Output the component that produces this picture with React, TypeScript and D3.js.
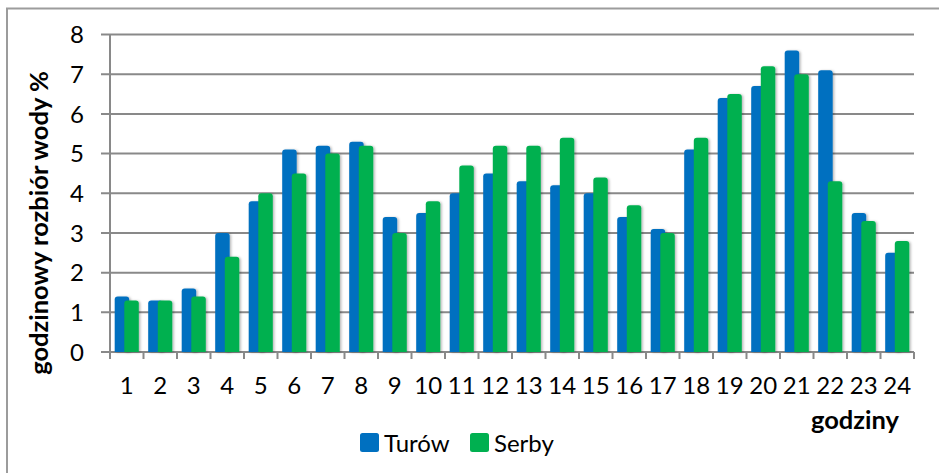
import React from "react";
import * as d3 from "d3";

const hours = ["1","2","3","4","5","6","7","8","9","10","11","12","13","14","15","16","17","18","19","20","21","22","23","24"];
const turow = [1.4,1.3,1.6,3.0,3.8,5.1,5.2,5.3,3.4,3.5,4.0,4.5,4.3,4.2,4.0,3.4,3.1,5.1,6.4,6.7,7.6,7.1,3.5,2.5];
const serby = [1.3,1.3,1.4,2.4,4.0,4.5,5.0,5.2,3.0,3.8,4.7,5.2,5.2,5.4,4.4,3.7,3.0,5.4,6.5,7.2,7.0,4.3,3.3,2.8];
const yTicks = [0,1,2,3,4,5,6,7,8];
const seriesNames = ["Turów", "Serby"];
const colors = ["#0070C0", "#00B050"];

const W = 939, H = 473;
const left = 110, right = 914, top = 34.5, bottom = 352;
const FONT = "Lato, 'Open Sans', sans-serif";

function topRounded(x: number, y: number, w: number, h: number, r: number) {
  const rr = Math.min(r, h, w / 2);
  const p = d3.path();
  p.moveTo(x, y + h);
  p.lineTo(x, y + rr);
  p.quadraticCurveTo(x, y, x + rr, y);
  p.lineTo(x + w - rr, y);
  p.quadraticCurveTo(x + w, y, x + w, y + rr);
  p.lineTo(x + w, y + h);
  p.closePath();
  return p.toString();
}

export default function App() {
  const x = d3.scaleBand<string>().domain(hours).range([left, right]).paddingInner(0).paddingOuter(0);
  const y = d3.scaleLinear().domain([0, 8]).range([bottom, top]);
  const bw = 14.5;
  const off = 4.8;
  const gridColor = "#898989";
  const series = [turow, serby];
  const boundaries = hours.map((h) => x(h)!).concat([right]);

  return (
    <svg width={W} height={H} style={{ position: "absolute", left: 0, top: 0, background: "#fff" }}>
      <defs>
        <filter id="sh" x="-30%" y="-10%" width="160%" height="120%">
          <feDropShadow dx="1.5" dy="0.5" stdDeviation="1.2" floodColor="#000" floodOpacity="0.28" />
        </filter>
      </defs>
      <rect x={7} y={8.5} width={W + 20} height={H + 20} fill="#fff" stroke="#9c9c9c" strokeWidth={2} />
      {yTicks.map((t) => (
        <line key={"g" + t} x1={101} x2={right} y1={y(t)} y2={y(t)} stroke={gridColor} strokeWidth={2} />
      ))}
      <line x1={left} x2={left} y1={top} y2={bottom} stroke={gridColor} strokeWidth={2} />
      {boundaries.map((bx, i) => (
        <line key={"t" + i} x1={bx} x2={bx} y1={bottom} y2={bottom + 7} stroke={gridColor} strokeWidth={2} />
      ))}
      {hours.map((h, i) => {
        const c = x(h)! + x.bandwidth() / 2;
        return (
          <g key={"b" + h}>
            {series.map((s, si) => {
              const bx = c + (si === 0 ? -off : off) - bw / 2;
              const by = y(s[i]);
              return (
                <path key={si} d={topRounded(bx, by, bw, bottom - by, 3)} fill={colors[si]} filter="url(#sh)" />
              );
            })}
          </g>
        );
      })}
      {yTicks.map((t) => (
        <text key={"yl" + t} x={84} y={y(t)} dy="0.36em" textAnchor="end" fontFamily={FONT} fontSize={24} fill="#000">
          {t}
        </text>
      ))}
      {hours.map((h) => (
        <text key={"xl" + h} x={x(h)! + x.bandwidth() / 2} y={394} textAnchor="middle" fontFamily={FONT} fontSize={24} fill="#000">
          {h}
        </text>
      ))}
      <text x={855} y={429} textAnchor="middle" fontFamily={FONT} fontWeight="bold" fontSize={25.5} fill="#000">
        godziny
      </text>
      <text transform={`translate(48,223) rotate(-90)`} textAnchor="middle" fontFamily={FONT} fontWeight="bold" fontSize={25.5} fill="#000">
        godzinowy rozbiór wody %
      </text>
      {seriesNames.map((n, i) => {
        const lx = [360, 470][i];
        return (
          <g key={"lg" + n}>
            <rect x={lx} y={433} width={19} height={19} rx={2.5} fill={colors[i]} />
            <text x={lx + 24} y={452} fontFamily={FONT} fontSize={24} fill="#000">
              {n}
            </text>
          </g>
        );
      })}
    </svg>
  );
}
